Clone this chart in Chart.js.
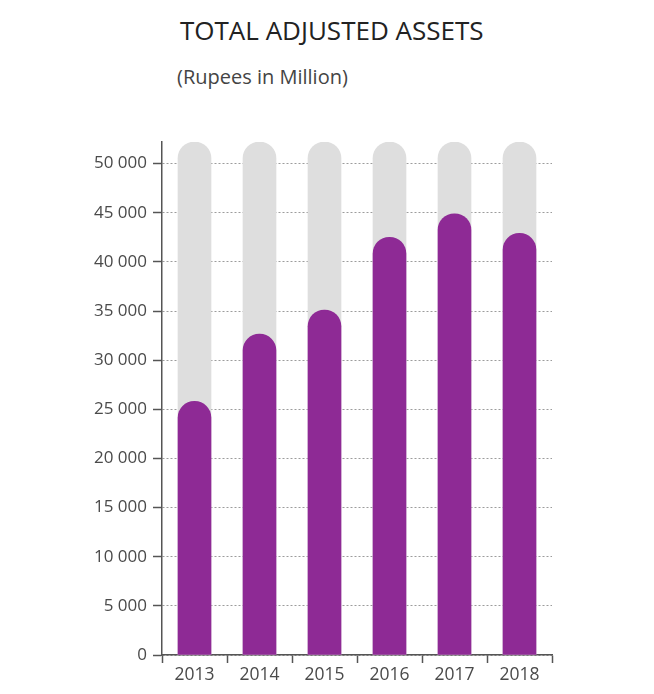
<!DOCTYPE html>
<html lang="en">
<head>
    <meta charset="UTF-8">
    <title>Total Adjusted Assets</title>
    <script src="https://cdn.jsdelivr.net/npm/chart.js"></script>
    <style>
        body { margin: 0; background: #ffffff; font-family: "Open Sans", sans-serif; }
        .wrap { position: relative; width: 654px; height: 694px; }
        .title { position: absolute; left: 180px; top: 12px; font-size: 26px; color: #222; white-space: nowrap; }
        .subtitle { position: absolute; left: 177px; top: 63px; font-size: 20px; color: #444; white-space: nowrap; }
        canvas { position: absolute; left: 0; top: 0; }
    </style>
</head>
<body>
    <div class="wrap">
        <div class="title">TOTAL ADJUSTED ASSETS</div>
        <div class="subtitle">(Rupees in Million)</div>
        <canvas id="assetsChart" width="654" height="694"></canvas>
    </div>

    <script>
        // Rupees in million
        const years = ['2013', '2014', '2015', '2016', '2017', '2018'];
        const assets = [25800, 32650, 35100, 42500, 44900, 42900];
        const trackTop = [52200, 52200, 52200, 52200, 52200, 52200];
        const yTicks = [0, 5000, 10000, 15000, 20000, 25000, 30000, 35000, 40000, 45000, 50000];

        const purple = '#8e2a95';
        const track = '#dedede';
        const axisGrey = '#555';

        const ctx = document.getElementById('assetsChart').getContext('2d');
        new Chart(ctx, {
            type: 'bar',
            data: {
                labels: years,
                datasets: [{
                    data: assets,
                    backgroundColor: purple,
                    barThickness: 33,
                    borderRadius: { topLeft: 16.5, topRight: 16.5 },
                    borderSkipped: false,
                    grouped: false,
                    order: 1
                }, {
                    // grey rounded "track" behind each bar
                    data: trackTop,
                    backgroundColor: track,
                    barThickness: 33,
                    borderRadius: { topLeft: 16.5, topRight: 16.5 },
                    borderSkipped: false,
                    grouped: false,
                    order: 2
                }]
            },
            options: {
                responsive: false,
                animation: false,
                layout: { padding: { top: 142, right: 102, left: 0, bottom: 0 } },
                plugins: {
                    legend: { display: false },
                    tooltip: { enabled: false }
                },
                scales: {
                    x: {
                        offset: true,
                        grid: {
                            offset: true,
                            drawOnChartArea: false,
                            drawTicks: true,
                            tickLength: 8,
                            tickColor: axisGrey,
                            tickWidth: 1.5
                        },
                        border: { display: true, color: axisGrey, width: 1.5 },
                        ticks: {
                            color: '#4a4a4a',
                            padding: 2,
                            font: { family: 'Open Sans', size: 17.5 }
                        },
                        afterFit: (scale) => { scale.height = 39; }
                    },
                    y: {
                        min: 0,
                        max: 52200,
                        z: 1,
                        afterBuildTicks: (scale) => {
                            scale.ticks = yTicks.map(v => ({ value: v }));
                        },
                        afterFit: (scale) => { scale.width = 162; },
                        grid: {
                            color: 'rgba(90, 90, 90, 0.6)',
                            lineWidth: 1,
                            tickLength: 9,
                            tickColor: axisGrey,
                            tickWidth: 1.5,
                            tickBorderDash: []
                        },
                        border: { display: true, color: axisGrey, width: 1.5, dash: [2, 2] },
                        ticks: {
                            color: '#4a4a4a',
                            padding: 6,
                            font: { family: 'Open Sans', size: 17 },
                            callback: (v) => v.toLocaleString('en-US').replace(/,/g, ' ')
                        }
                    }
                }
            }
        });
    </script>
</body>
</html>
